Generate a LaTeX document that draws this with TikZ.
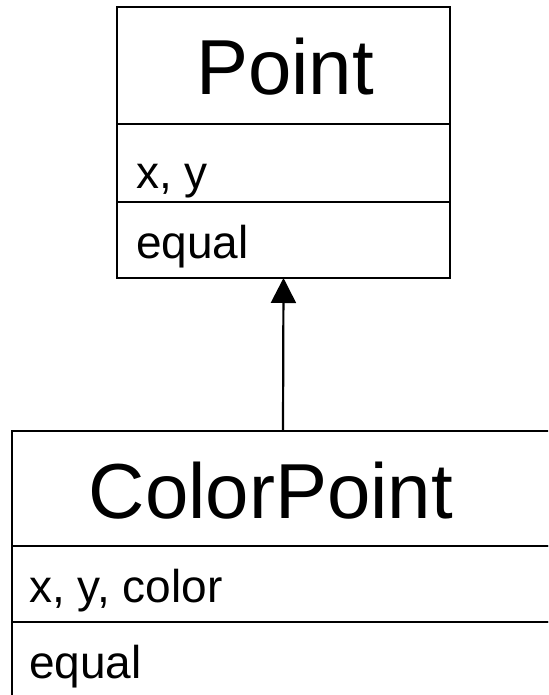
\documentclass[tikz,border=0pt]{standalone}
\usepackage{fontspec}
\setmainfont{Liberation Sans}
\usetikzlibrary{arrows.meta}
\tikzset{
  sect/.style={draw=black, line width=2.2pt, minimum width=#1, inner sep=0pt, outer sep=0pt},
  titletxt/.style={inner sep=0pt, anchor=base, font=\fontsize{78pt}{80pt}\selectfont},
  itemtxt/.style={inner sep=0pt, anchor=base west, font=\fontsize{46pt}{48pt}\selectfont},
  inherit/.style={line width=2.2pt, -{Triangle[width=25pt,length=25pt]}}
}
\begin{document}
\begin{tikzpicture}[x=1pt,y=-1pt]
\useasboundingbox (0,0) rectangle (548,695);
\clip (0,0) rectangle (548,695);
% Point class
\node[sect=333pt, minimum height=117pt] (ptTitle) at (283.5,65.5) {};
\node[sect=333pt, minimum height=78pt] (ptAttr) at (283.5,163) {};
\node[sect=333pt, minimum height=76pt] (ptMeth) at (283.5,240) {};
\node[titletxt] (ptName) at (285,95) {Point};
\node[itemtxt] (ptAttrTxt) at (136,188) {x, y};
\node[itemtxt] (ptMethTxt) at (136,258) {equal};
% ColorPoint class
\node[sect=542pt, minimum height=115pt] (cpTitle) at (283,488.5) {};
\node[sect=542pt, minimum height=76pt] (cpAttr) at (283,584) {};
\node[sect=542pt, minimum height=76pt] (cpMeth) at (283,660) {};
\node[titletxt] (cpName) at (271,518) {ColorPoint};
\node[itemtxt] (cpAttrTxt) at (29,602) {x, y, color};
\node[itemtxt] (cpMethTxt) at (29,678) {equal};
% inheritance
\draw[inherit] (cpTitle.north) -- (ptMeth.south);
\end{tikzpicture}
\end{document}
